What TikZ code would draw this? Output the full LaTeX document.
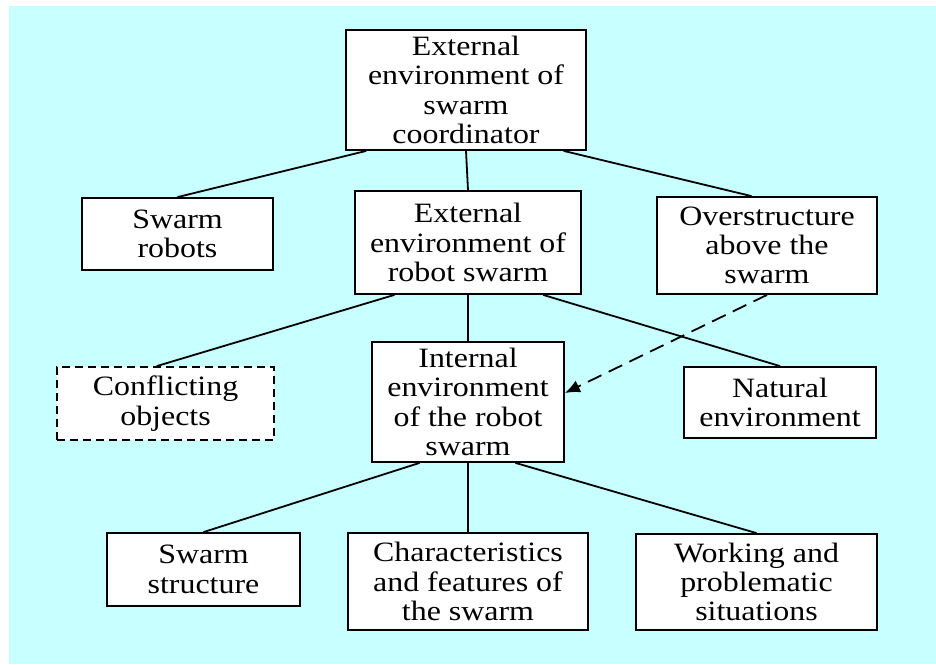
\documentclass[tikz,border=0pt]{standalone}
\usepackage{fontspec}
\setmainfont[FakeStretch=1.14]{Liberation Serif}
\usetikzlibrary{arrows.meta,calc}
\definecolor{bgcyan}{RGB}{200,255,255}
\tikzset{
  box/.style={draw=black, fill=white, line width=1.8pt, align=center, inner sep=0pt,
    font=\fontsize{28}{29.3}\selectfont},
  dbox/.style={box, dash pattern=on 8pt off 5pt},
  link/.style={line width=1.8pt},
  dlink/.style={line width=1.8pt, dash pattern=on 15pt off 8pt, -{Latex[length=15pt,width=13pt]}}
}
\begin{document}
\begin{tikzpicture}[x=1pt,y=-1pt]
\useasboundingbox (0,0) rectangle (936,664);
\fill[bgcyan] (9,6) rectangle (936,664);

\node[box, minimum width=240pt, minimum height=120pt] (top) at (466,90) {External\\environment of\\swarm\\coordinator};
\node[box, minimum width=191pt, minimum height=72pt] (sr) at (177.5,234) {Swarm\\robots};
\node[box, minimum width=226pt, minimum height=103pt] (mid) at (468,242.5) {External\\environment of\\robot swarm};
\node[box, minimum width=220pt, minimum height=97pt] (over) at (767,245.5) {Overstructure\\above the\\swarm};
\node[dbox, minimum width=217pt, minimum height=73pt] (conf) at (165.5,403.5) {Conflicting\\objects};
\node[box, minimum width=192pt, minimum height=120pt] (int) at (468,402) {Internal\\environment\\of the robot\\swarm};
\node[box, minimum width=192pt, minimum height=71pt] (nat) at (780,402.5) {Natural\\environment};
\node[box, minimum width=193pt, minimum height=73pt] (ss) at (203.5,569.5) {Swarm\\structure};
\node[box, minimum width=240pt, minimum height=97pt] (char) at (468,581.5) {Characteristics\\and features of\\the swarm};
\node[box, minimum width=241pt, minimum height=96pt] (work) at (756.5,582) {Working and\\problematic\\situations};

\draw[link] ($(top.south west)!0.0875!(top.south east)$) -- (sr.north);
\draw[link] (top.south) -- (mid.north);
\draw[link] ($(top.south west)!0.904!(top.south east)$) -- ($(over.north west)!0.43!(over.north east)$);
\draw[link] ($(mid.south west)!0.177!(mid.south east)$) -- ($(conf.north west)!0.46!(conf.north east)$);
\draw[link] (mid.south) -- (int.north);
\draw[link] ($(mid.south west)!0.83!(mid.south east)$) -- (nat.north);
\draw[dlink] (over.south) -- ($(int.east)+(0,-9)$);
\draw[link] ($(int.south west)!0.25!(int.south east)$) -- (ss.north);
\draw[link] (int.south) -- (char.north);
\draw[link] ($(int.south west)!0.745!(int.south east)$) -- (work.north);
\end{tikzpicture}
\end{document}
